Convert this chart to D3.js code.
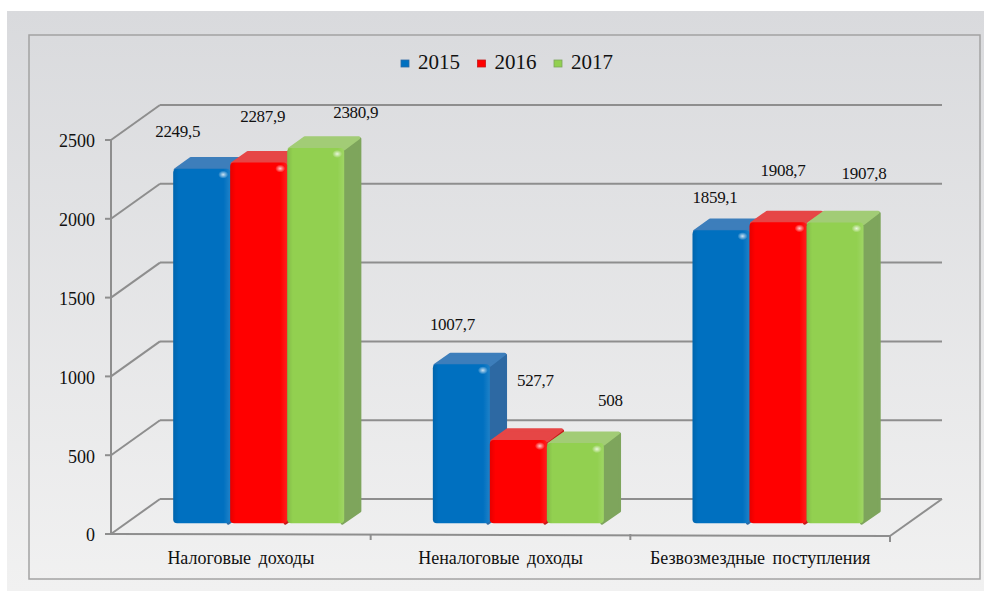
<!DOCTYPE html>
<html>
<head>
<meta charset="utf-8">
<script src="https://cdn.jsdelivr.net/npm/d3@7"></script>
<style>
    body { margin: 0; background: #ffffff; }
</style>
</head>
<body>
<div id="chart"></div>
<script>
// Chart data
const categories = ["Налоговые доходы", "Неналоговые доходы", "Безвозмездные поступления"];
const years = ["2015", "2016", "2017"];
const values2015 = [2249.5, 1007.7, 1859.1];
const values2016 = [2287.9, 527.7, 1908.7];
const values2017 = [2380.9, 508, 1907.8];
const yTicks = [0, 500, 1000, 1500, 2000, 2500];

const seriesValues = [values2015, values2016, values2017];

// colours: front, top, side
const colors = [
    { front: "#0070c0", top: "#3d7ebb", side: "#2d69a3" },
    { front: "#ff0000", top: "#e64646", side: "#c41a1a" },
    { front: "#92d050", top: "#a2cc76", side: "#7ea55c" }
];

// hand placed label nudges (px from the top centre of each bar's front face)
const labelNudge = [
    [[-24, -38], [4, -47], [40, -36]],
    [[-9, -40], [17, -60], [35, -43]],
    [[-6, -33], [5, -52], [29, -49]]
];

const fmt = d3.formatLocale({ decimal: ",", thousands: "", grouping: [3], currency: ["", ""] }).format(".1~f");

const FONT = "\"Liberation Serif\", \"Times New Roman\", serif";
const W = 984, H = 591;

const svg = d3.select("#chart").append("svg")
    .attr("width", W)
    .attr("height", H)
    .attr("font-family", FONT);

const defs = svg.append("defs");

const bg = defs.append("linearGradient")
    .attr("id", "bg").attr("x1", 0).attr("y1", 0).attr("x2", 0).attr("y2", 1);
bg.append("stop").attr("offset", "0%").attr("stop-color", "#d9dadd");
bg.append("stop").attr("offset", "100%").attr("stop-color", "#f1f1f1");

const shade = defs.append("linearGradient")
    .attr("id", "shade").attr("x1", 0).attr("y1", 0).attr("x2", 1).attr("y2", 0);
shade.append("stop").attr("offset", "0%").attr("stop-color", "#000").attr("stop-opacity", 0.10);
shade.append("stop").attr("offset", "10%").attr("stop-color", "#000").attr("stop-opacity", 0);
shade.append("stop").attr("offset", "88%").attr("stop-color", "#fff").attr("stop-opacity", 0);
shade.append("stop").attr("offset", "100%").attr("stop-color", "#fff").attr("stop-opacity", 0.12);

const glow = defs.append("radialGradient").attr("id", "glow");
glow.append("stop").attr("offset", "0%").attr("stop-color", "#fff").attr("stop-opacity", 0.8);
glow.append("stop").attr("offset", "100%").attr("stop-color", "#fff").attr("stop-opacity", 0);

// background panel and frame
svg.append("rect")
    .attr("x", 7).attr("y", 11)
    .attr("width", W - 7).attr("height", H - 11)
    .attr("fill", "url(#bg)");

svg.append("rect")
    .attr("x", 29).attr("y", 35)
    .attr("width", 951).attr("height", 544)
    .attr("fill", "none")
    .attr("stroke", "#a3a3a3")
    .attr("stroke-width", 1.5);

// scales
const x = d3.scaleBand()
    .domain(categories)
    .range([111, 890]);

const y = d3.scaleLinear()
    .domain([0, 2500])
    .range([534, 140]);

const xs = d3.scaleBand()
    .domain(years)
    .range([0, 171]);

// oblique depth of the 3D box
const depthX = d3.scaleLinear().domain([0, 1]).range([0, 49]);
const depthY = d3.scaleLinear().domain([0, 1]).range([0, -35]);

const gridColor = "#8e8e8e";
const grid = svg.append("g")
    .attr("stroke", gridColor)
    .attr("stroke-width", 2)
    .attr("fill", "none");

const x0 = x.range()[0], x1 = x.range()[1];

yTicks.forEach(v => {
    // back wall line
    grid.append("line")
        .attr("x1", x0 + depthX(1)).attr("y1", y(v) + depthY(1))
        .attr("x2", x1 + depthX(1) + 3).attr("y2", y(v) + depthY(1));
    // side wall diagonal
    grid.append("line")
        .attr("x1", x0).attr("y1", y(v))
        .attr("x2", x0 + depthX(1)).attr("y2", y(v) + depthY(1));
    // tick
    grid.append("line")
        .attr("x1", x0 - 6).attr("y1", y(v))
        .attr("x2", x0).attr("y2", y(v));
});

// front vertical axis
grid.append("line")
    .attr("x1", x0).attr("y1", y(0))
    .attr("x2", x0).attr("y2", y(2500));

// floor: front edge and right diagonal
grid.append("line")
    .attr("x1", x0).attr("y1", y(0))
    .attr("x2", x1).attr("y2", y(0) + 2);
grid.append("line")
    .attr("x1", x1).attr("y1", y(0) + 2)
    .attr("x2", x1 + depthX(1) + 3).attr("y2", y(0) + depthY(1));

// category ticks
categories.forEach((c, i) => {
    if (i === 0) return;
    grid.append("line")
        .attr("x1", x(c)).attr("y1", y(0))
        .attr("x2", x(c)).attr("y2", y(0) + 6);
});
grid.append("line")
    .attr("x1", x1).attr("y1", y(0) + 2)
    .attr("x2", x1).attr("y2", y(0) + 8);

// y tick labels
svg.append("g")
    .selectAll("text")
    .data(yTicks)
    .enter().append("text")
    .attr("x", 95)
    .attr("y", d => y(d) + 1)
    .attr("dy", "0.35em")
    .attr("text-anchor", "end")
    .attr("font-size", 18)
    .attr("fill", "#111")
    .text(d => d);

// category labels
svg.append("g")
    .selectAll("text")
    .data(categories)
    .enter().append("text")
    .attr("x", d => x(d) + x.bandwidth() / 2)
    .attr("y", 558)
    .attr("dy", "0.35em")
    .attr("text-anchor", "middle")
    .attr("font-size", 18)
    .attr("word-spacing", 3)
    .attr("fill", "#111")
    .text(d => d);

// bars
const groupOffset = 47;
const barFront = 0.31;   // depth of the bar front face
const barDepth = 0.32;   // depth of the bar itself
const bdx = depthX(barDepth), bdy = depthY(barDepth);

const bars = [];
categories.forEach((c, ci) => {
    years.forEach((yr, si) => {
        bars.push({ cat: c, ci: ci, year: yr, si: si, value: seriesValues[si][ci] });
    });
});

const barG = svg.append("g");

bars.forEach(d => {
    const w = xs.bandwidth();
    const xf = x(d.cat) + groupOffset + xs(d.year) + depthX(barFront);
    const bottom = y(0) + depthY(barFront);
    const top = bottom - (y(0) - y(d.value));
    const col = colors[d.si];
    d.cx = xf + w / 2;
    d.top = top;

    const g = barG.append("g");

    // side face
    g.append("path")
        .attr("d", `M${xf + w - 2},${top + 2} L${xf + w + bdx},${top + bdy + 2} L${xf + w + bdx},${bottom + bdy - 1} L${xf + w - 2},${bottom}Z`)
        .attr("fill", col.side)
        .attr("stroke", col.side)
        .attr("stroke-width", 3)
        .attr("stroke-linejoin", "round");

    // top face
    g.append("path")
        .attr("d", `M${xf + 2},${top + 1} L${xf + w},${top + 1} L${xf + w + bdx - 1},${top + bdy + 1} L${xf + bdx + 2},${top + bdy + 1}Z`)
        .attr("fill", col.top)
        .attr("stroke", col.top)
        .attr("stroke-width", 3)
        .attr("stroke-linejoin", "round");

    // front face
    g.append("rect")
        .attr("x", xf).attr("y", top)
        .attr("width", w).attr("height", bottom - top)
        .attr("rx", 4)
        .attr("fill", col.front);

    g.append("rect")
        .attr("x", xf).attr("y", top)
        .attr("width", w).attr("height", bottom - top)
        .attr("rx", 4)
        .attr("fill", "url(#shade)");

    // glossy highlight on the front corner
    g.append("ellipse")
        .attr("cx", xf + w - 7).attr("cy", top + 6)
        .attr("rx", 5).attr("ry", 4)
        .attr("fill", "url(#glow)");
});

// data labels
svg.append("g")
    .selectAll("text")
    .data(bars)
    .enter().append("text")
    .attr("x", d => d.cx + labelNudge[d.ci][d.si][0])
    .attr("y", d => d.top + labelNudge[d.ci][d.si][1])
    .attr("dy", "0.35em")
    .attr("text-anchor", "middle")
    .attr("font-size", 17)
    .attr("letter-spacing", -0.3)
    .attr("fill", "#111")
    .text(d => fmt(d.value));

// legend
const legend = svg.append("g")
    .attr("transform", "translate(401,0)");

years.forEach((yr, i) => {
    const item = legend.append("g")
        .attr("transform", `translate(${i * 76.5},0)`);
    item.append("rect")
        .attr("x", 0).attr("y", 60)
        .attr("width", 8).attr("height", 7)
        .attr("fill", colors[i].front)
        .attr("stroke", colors[i].side)
        .attr("stroke-width", 0.8);
    item.append("text")
        .attr("x", 17).attr("y", 69)
        .attr("font-size", 21)
        .attr("fill", "#111")
        .text(yr);
});
</script>
</body>
</html>
